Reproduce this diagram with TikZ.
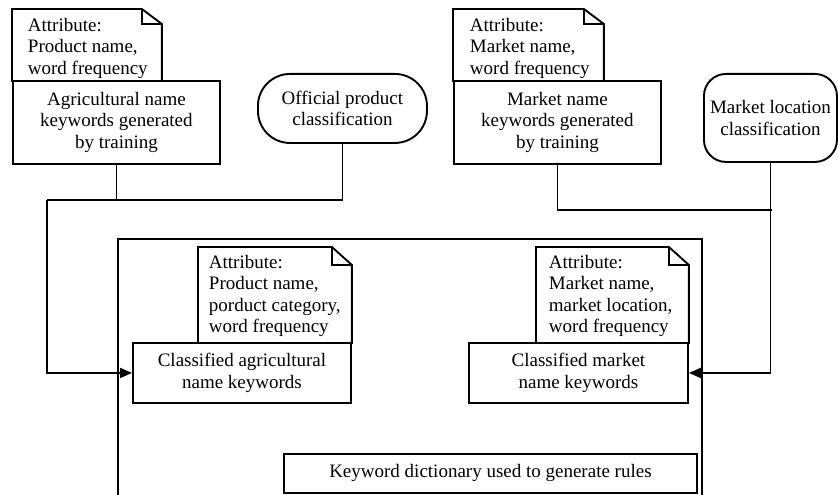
\documentclass[tikz,border=0pt]{standalone}
\usepackage{fontspec}
\setmainfont{Liberation Serif}
\usetikzlibrary{arrows.meta}
\newcommand\drawnote[3]{%
  \draw (#1.south west) -- (#1.north west) -- ([xshift=-#2pt]#1.north east)
        -- ([yshift=-#3pt]#1.north east) -- (#1.south east);
  \draw ([xshift=-#2pt]#1.north east) |- ([yshift=-#3pt]#1.north east);}
\begin{document}
\begin{tikzpicture}[x=1pt,y=-1pt, line width=1.9pt,
  every node/.style={font=\fontsize{19}{21.5}\selectfont},
  box/.style={draw, rectangle, anchor=north west, align=center, inner sep=0pt},
  notebg/.style={rectangle, anchor=north west, inner sep=0pt},
  notetxt/.style={anchor=north west, align=left, inner sep=0pt},
  term/.style={draw, rectangle, anchor=north west, align=center, inner sep=0pt},
  conn/.style={line width=1.9pt},
  arr/.style={conn, -{Triangle[length=12pt,width=10pt]}},
]
\useasboundingbox (0,0) rectangle (838,495);

% top left
\node[notebg, minimum width=148pt, minimum height=71pt] (n1) at (12,9) {};
\drawnote{n1}{20}{15}
\node[notetxt] (t1) at (27,17) {Attribute:\\Product name,\\word frequency};
\node[box, minimum width=207pt, minimum height=83pt] (b1) at (12,80)
  {Agricultural name\\keywords generated\\by training};
\node[term, rounded corners=32pt, minimum width=169pt, minimum height=69pt] (off) at (257,73)
  {Official product\\classification};

% top right
\node[notebg, minimum width=149pt, minimum height=71pt] (n2) at (453,9) {};
\drawnote{n2}{20}{15}
\node[notetxt] (t2) at (469,17) {Attribute:\\Market name,\\word frequency};
\node[box, minimum width=207pt, minimum height=83pt] (b2) at (453,80)
  {Market name\\keywords generated\\by training};
\node[term, rounded corners=22pt, minimum width=133pt, minimum height=88pt] (ml) at (703,73)
  {Market location\\classification};

% container
\draw (118,496) -- (118,239) -- (702,239) -- (702,496);

% inner left
\node[notebg, minimum width=152pt, minimum height=95pt] (n3) at (198,247) {};
\drawnote{n3}{20}{18}
\node[notetxt] (t3) at (208,254) {Attribute:\\Product name,\\porduct category,\\word frequency};
\node[box, minimum width=218pt, minimum height=60pt] (b3) at (132,342)
  {Classified agricultural\\name keywords};

% inner right
\node[notebg, minimum width=151pt, minimum height=95pt] (n4) at (536,247) {};
\drawnote{n4}{20}{18}
\node[notetxt] (t4) at (548,254) {Attribute:\\Market name,\\market location,\\word frequency};
\node[box, minimum width=219pt, minimum height=60pt] (b4) at (468,342)
  {Classified market\\name keywords};

\node[box, minimum width=413pt, minimum height=39pt] (dict) at (283,453)
  {Keyword dictionary used to generate rules};

% connectors
\coordinate (c1) at (47,200);
\coordinate (c2) at (772,210);
\draw[conn] (b1.south) -- (b1.south |- c1);
\draw[conn] (off.south) |- (c1);
\draw[arr] (c1) |- (b3.west);
\draw[conn] (b2.south) |- (c2);
\draw[arr] (ml.south) |- (b4.east);
\end{tikzpicture}
\end{document}
